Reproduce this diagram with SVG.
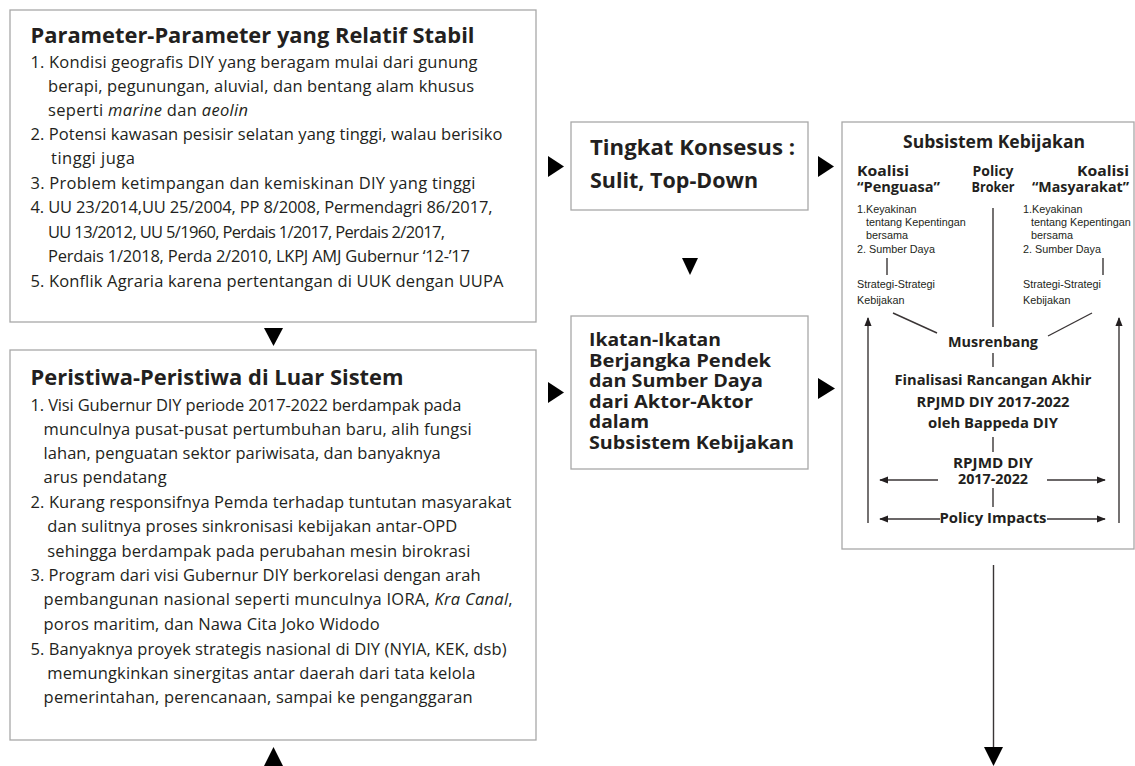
<svg xmlns="http://www.w3.org/2000/svg" width="1135" height="766" viewBox="0 0 1135 766">
<style>
.box{fill:#fff;stroke:#a8a8a8;stroke-width:1.3}
.t{font-family:"Open Sans","Liberation Sans",sans-serif;fill:#231f20}
.h{font-weight:700;font-size:21px}
.b{font-size:16.5px}
.bb{font-weight:700}
.s{font-family:"Liberation Sans",Arial,sans-serif;font-size:10.8px;fill:#231f20}
.tri{fill:#000}
.ln{stroke:#3a3536;stroke-width:1.4;fill:none}
.ar{stroke:#3a3536;stroke-width:1.4;fill:none;marker-end:url(#ah)}
</style>
<defs>
<marker id="ah" viewBox="0 0 10 10" refX="9" refY="5" markerWidth="9" markerHeight="9" markerUnits="userSpaceOnUse" orient="auto">
<path d="M0,1 L10,5 L0,9 z" fill="#231f20"/>
</marker>
</defs>
<rect width="1135" height="766" fill="#fff"/>

<g id="box-parameter">
<rect class="box" x="10" y="10" width="526" height="312"/>
<text class="t h" x="30.5" y="43" textLength="444" lengthAdjust="spacingAndGlyphs">Parameter-Parameter yang Relatif Stabil</text>
<text class="t b" x="30.5" y="68" textLength="447">1. Kondisi geografis DIY yang beragam mulai dari gunung</text>
<text class="t b" x="48" y="92" textLength="426">berapi, pegunungan, aluvial, dan bentang alam khusus</text>
<text class="t b" x="48" y="116" textLength="200">seperti <tspan font-style="italic">marine</tspan> dan <tspan font-style="italic">aeolin</tspan></text>
<text class="t b" x="30.5" y="140" textLength="472">2. Potensi kawasan pesisir selatan yang tinggi, walau berisiko</text>
<text class="t b" x="51" y="164" textLength="84">tinggi juga</text>
<text class="t b" x="30.5" y="188.5" textLength="445">3. Problem ketimpangan dan kemiskinan DIY yang tinggi</text>
<text class="t b" x="30.5" y="213" textLength="462">4. UU 23/2014,UU 25/2004, PP 8/2008, Permendagri 86/2017,</text>
<text class="t b" x="48" y="237.5" textLength="397">UU 13/2012, UU 5/1960, Perdais 1/2017, Perdais 2/2017,</text>
<text class="t b" x="48" y="262" textLength="422">Perdais 1/2018, Perda 2/2010, LKPJ AMJ Gubernur ‘12-’17</text>
<text class="t b" x="30.5" y="287" textLength="473">5. Konflik Agraria karena pertentangan di UUK dengan UUPA</text>
</g>

<g id="box-peristiwa">
<rect class="box" x="10" y="350" width="526" height="390"/>
<text class="t h" x="30.5" y="385" textLength="373" lengthAdjust="spacingAndGlyphs">Peristiwa-Peristiwa di Luar Sistem</text>
<text class="t b" x="30.5" y="410.5" textLength="431">1. Visi Gubernur DIY periode 2017-2022 berdampak pada</text>
<text class="t b" x="43.6" y="434.5" textLength="428">munculnya pusat-pusat pertumbuhan baru, alih fungsi</text>
<text class="t b" x="43.6" y="458.5" textLength="397">lahan, penguatan sektor pariwisata, dan banyaknya</text>
<text class="t b" x="43.6" y="483" textLength="123">arus pendatang</text>
<text class="t b" x="30.5" y="508" textLength="481">2. Kurang responsifnya Pemda terhadap tuntutan masyarakat</text>
<text class="t b" x="47.3" y="532" textLength="410">dan sulitnya proses sinkronisasi kebijakan antar-OPD</text>
<text class="t b" x="47.3" y="556.5" textLength="423">sehingga berdampak pada perubahan mesin birokrasi</text>
<text class="t b" x="30.5" y="581" textLength="450">3. Program dari visi Gubernur DIY berkorelasi dengan arah</text>
<text class="t b" x="43.6" y="605" textLength="469">pembangunan nasional seperti munculnya IORA, <tspan font-style="italic">Kra Canal</tspan>,</text>
<text class="t b" x="43.6" y="629.5" textLength="336">poros maritim, dan Nawa Cita Joko Widodo</text>
<text class="t b" x="30.5" y="654.5" textLength="476">5. Banyaknya proyek strategis nasional di DIY (NYIA, KEK, dsb)</text>
<text class="t b" x="47.3" y="679" textLength="428">memungkinkan sinergitas antar daerah dari tata kelola</text>
<text class="t b" x="43.6" y="703" textLength="429">pemerintahan, perencanaan, sampai ke penganggaran</text>
</g>

<g id="box-konsesus">
<rect class="box" x="571" y="122" width="237" height="88"/>
<text class="t bb" font-size="21" x="590" y="155" textLength="205" lengthAdjust="spacingAndGlyphs">Tingkat Konsesus :</text>
<text class="t bb" font-size="21" x="590" y="188" textLength="168" lengthAdjust="spacingAndGlyphs">Sulit, Top-Down</text>
</g>

<g id="box-ikatan">
<rect class="box" x="571" y="316" width="237" height="153"/>
<text class="t bb" font-size="17.5" x="589" y="346" textLength="132" lengthAdjust="spacingAndGlyphs">Ikatan-Ikatan</text>
<text class="t bb" font-size="17.5" x="589" y="366.5" textLength="182" lengthAdjust="spacingAndGlyphs">Berjangka Pendek</text>
<text class="t bb" font-size="17.5" x="589" y="387" textLength="174" lengthAdjust="spacingAndGlyphs">dan Sumber Daya</text>
<text class="t bb" font-size="17.5" x="589" y="407.5" textLength="164" lengthAdjust="spacingAndGlyphs">dari Aktor-Aktor</text>
<text class="t bb" font-size="17.5" x="589" y="428" textLength="60" lengthAdjust="spacingAndGlyphs">dalam</text>
<text class="t bb" font-size="17.5" x="589" y="448.5" textLength="205" lengthAdjust="spacingAndGlyphs">Subsistem Kebijakan</text>
</g>

<g id="box-subsistem">
<rect class="box" x="842" y="122" width="292" height="427"/>
<text class="t bb" font-size="17" x="994" y="148" text-anchor="middle" textLength="182" lengthAdjust="spacingAndGlyphs">Subsistem Kebijakan</text>
<text class="t bb" font-size="14" x="857" y="176" textLength="52" lengthAdjust="spacingAndGlyphs">Koalisi</text>
<text class="t bb" font-size="14" x="857" y="192" textLength="83" lengthAdjust="spacingAndGlyphs">“Penguasa”</text>
<text class="t bb" font-size="14" x="993" y="176" text-anchor="middle" textLength="41" lengthAdjust="spacingAndGlyphs">Policy</text>
<text class="t bb" font-size="14" x="993" y="192" text-anchor="middle" textLength="43" lengthAdjust="spacingAndGlyphs">Broker</text>
<text class="t bb" font-size="14" x="1129" y="176" text-anchor="end" textLength="52" lengthAdjust="spacingAndGlyphs">Koalisi</text>
<text class="t bb" font-size="14" x="1129" y="192" text-anchor="end" textLength="97" lengthAdjust="spacingAndGlyphs">“Masyarakat”</text>

<text class="s" x="857" y="213">1.Keyakinan</text>
<text class="s" x="866" y="226">tentang Kepentingan</text>
<text class="s" x="866" y="239">bersama</text>
<text class="s" x="857" y="253">2. Sumber Daya</text>
<text class="s" x="857" y="288">Strategi-Strategi</text>
<text class="s" x="857" y="304">Kebijakan</text>

<text class="s" x="1023" y="213">1.Keyakinan</text>
<text class="s" x="1031" y="226">tentang Kepentingan</text>
<text class="s" x="1031" y="239">bersama</text>
<text class="s" x="1023" y="253">2. Sumber Daya</text>
<text class="s" x="1023" y="288">Strategi-Strategi</text>
<text class="s" x="1023" y="304">Kebijakan</text>

<text class="t bb" font-size="14.5" x="993" y="347" text-anchor="middle" textLength="90" lengthAdjust="spacingAndGlyphs">Musrenbang</text>
<text class="t bb" font-size="14.5" x="993" y="385" text-anchor="middle" textLength="197" lengthAdjust="spacingAndGlyphs">Finalisasi Rancangan Akhir</text>
<text class="t bb" font-size="14.5" x="993" y="407" text-anchor="middle" textLength="153" lengthAdjust="spacingAndGlyphs">RPJMD DIY 2017-2022</text>
<text class="t bb" font-size="14.5" x="993" y="428" text-anchor="middle" textLength="130" lengthAdjust="spacingAndGlyphs">oleh Bappeda DIY</text>
<text class="t bb" font-size="14.5" x="993" y="468" text-anchor="middle" textLength="80" lengthAdjust="spacingAndGlyphs">RPJMD DIY</text>
<text class="t bb" font-size="14.5" x="993" y="484" text-anchor="middle" textLength="70" lengthAdjust="spacingAndGlyphs">2017-2022</text>
<text class="t bb" font-size="14.5" x="993" y="523" text-anchor="middle" textLength="107" lengthAdjust="spacingAndGlyphs">Policy Impacts</text>

<line class="ln" x1="993" y1="208" x2="993" y2="327"/>
<line class="ln" x1="887" y1="258" x2="887" y2="275"/>
<line class="ln" x1="1103" y1="258" x2="1103" y2="275"/>
<line class="ln" x1="893" y1="313" x2="937" y2="333"/>
<line class="ln" x1="1092" y1="313" x2="1048" y2="336"/>
<line class="ln" x1="993" y1="353" x2="993" y2="367"/>
<line class="ln" x1="993" y1="437" x2="993" y2="452"/>
<line class="ln" x1="993" y1="488" x2="993" y2="507"/>
<line class="ar" x1="938" y1="480" x2="880" y2="480"/>
<line class="ar" x1="1047" y1="480" x2="1105" y2="480"/>
<line class="ar" x1="940" y1="519" x2="880" y2="519"/>
<line class="ar" x1="1047" y1="519" x2="1105" y2="519"/>
<line class="ar" x1="868" y1="523" x2="868" y2="318"/>
<line class="ar" x1="1119" y1="523" x2="1119" y2="318"/>
</g>

<g id="connectors">
<polygon class="tri" points="548,156 564,166.5 548,177"/>
<polygon class="tri" points="548,382 564,392.5 548,403"/>
<polygon class="tri" points="818,156 834,166.5 818,177"/>
<polygon class="tri" points="818,378 835,388.5 818,399"/>
<polygon class="tri" points="264,328 283,328 273.5,346"/>
<polygon class="tri" points="264,766 283,766 273.5,747"/>
<polygon class="tri" points="682,258 698,258 690,275"/>
<line x1="993.5" y1="565" x2="993.5" y2="750" stroke="#3a3536" stroke-width="1.4"/>
<polygon class="tri" points="984,747 1003,747 993.5,766"/>
</g>
</svg>
